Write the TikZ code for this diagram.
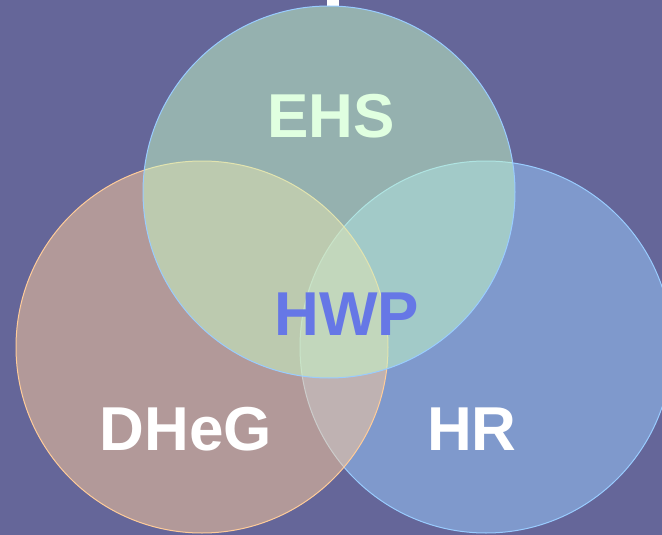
\documentclass[tikz,border=0pt]{standalone}
\usepackage{fontspec}
\setmainfont{Liberation Sans}
\definecolor{bgpurple}{RGB}{101,102,153}
\definecolor{peach}{RGB}{255,204,153}
\definecolor{mint}{RGB}{198,252,198}
\definecolor{sky}{RGB}{153,204,255}
\definecolor{minttext}{RGB}{224,255,224}
\definecolor{hwpblue}{RGB}{102,119,230}
\tikzset{
  setcircle/.style={fill opacity=0.5, draw opacity=1, line width=1pt},
  setlabel/.style={font=\fontsize{62}{62}\selectfont\bfseries, anchor=base, inner sep=0pt},
}
\begin{document}
\begin{tikzpicture}[x=1pt,y=-1pt]
  % canvas
  \fill[bgpurple] (0,0) rectangle (662,535);
  \useasboundingbox (0,0) rectangle (662,535);
  % stroke of a title letter just above the diagram
  \fill[white] (327,0) rectangle (339,6);
  % the three sets
  \begin{scope}
    \clip (0,0) rectangle (662,535);
    \path[setcircle, fill=sky, draw=sky] (486,347) circle[radius=186];
    \path[setcircle, fill=peach, draw=peach] (202,347) circle[radius=186];
    \path[setcircle, fill=mint, draw=sky] (329,192) circle[radius=186];
  \end{scope}
  % labels
  \node[setlabel, text=minttext] (ehs) at (331,137) {EHS};
  \node[setlabel, text=hwpblue] (hwp) at (347,335) {HWP};
  \node[setlabel, text=white] (dheg) at (186,450) {DHeG};
  \node[setlabel, text=white] (hr) at (472,450) {HR};
\end{tikzpicture}
\end{document}
